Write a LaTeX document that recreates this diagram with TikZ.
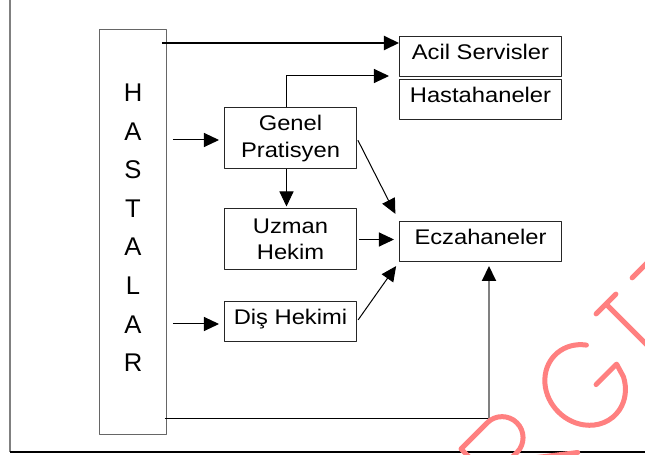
\documentclass[tikz,border=0pt]{standalone}
\usepackage{fontspec}
\setmainfont{Liberation Sans}[FakeStretch=1.12]
\newfontfamily\harffont{Liberation Sans}
\usetikzlibrary{arrows.meta}
\definecolor{damga}{RGB}{255,128,128}
\begin{document}
\begin{tikzpicture}[x=0.5pt,y=-0.5pt,line join=round,>={Triangle[length=7.5pt,width=7pt]}]

		\tikzset{kutu/.style={draw=black!85,line width=0.5pt,inner sep=0pt,align=center,font=\fontsize{10.6}{13.3}\selectfont},
			genis/.style={kutu,minimum width=81pt},
			dar/.style={kutu,minimum width=66pt},
			tek/.style={text height=7.8pt,text depth=5pt,minimum height=20pt},
			iki/.style={minimum height=30.5pt},
			ok/.style={->,line width=0.5pt}}

		\useasboundingbox (0,0) rectangle (645,455);
		\draw[black!50,line width=1pt] (10,0)--(10,452);
		\draw[line width=0.6pt] (10,452)--(645,452);

		\node[draw=black!60,line width=0.5pt,minimum width=33.5pt,minimum height=202.5pt] (hastalar) at (133,232.5) {};
		\node[font=\harffont\fontsize{12.8}{19.3}\selectfont,align=center] (hastalarYazi) at (133,227.75) {H\\A\\S\\T\\A\\L\\A\\R};
		\node[genis,tek] (acil) at (480.5,57) {Acil Servisler};
		\node[genis,tek] (hastane) at (480.5,100) {Hastahaneler};
		\node[genis,tek] (eczane) at (480.5,241.5) {Eczahaneler};
		\node[dar,iki] (genel) at (290.5,138.5) {Genel\\Pratisyen};
		\node[dar,iki] (uzman) at (290.5,239.5) {Uzman\\Hekim};
		\node[dar,tek] (dis) at (290.5,321.5) {Diş Hekimi};

		\coordinate (acilBas) at (162,43);
		\coordinate (hastaneUc) at (389,76);
		\coordinate (genelBas) at (173,140);
		\coordinate (disBas) at (173,324);
		\coordinate (altBas) at (165,419);
		\coordinate (altKose) at (489,419);

		\draw[ok,line width=1pt] (acilBas)--(acilBas -| acil.west);
		\draw[ok] ([xshift=-1.75pt]genel.north) |- (hastaneUc);
		\draw[ok,shorten >=2.5pt] (genelBas)--(genelBas -| genel.west);
		\draw[ok,shorten >=2.5pt] (disBas)--(disBas -| dis.west);
		\draw[ok,shorten >=1pt] ([xshift=-2pt]genel.south)--([xshift=-2pt]uzman.north);
		\draw[ok,shorten <=1pt,shorten >=4pt] (genel.east)--(eczane.north west);
		\draw[ok,shorten <=1pt,shorten >=2.5pt] (uzman.east)--(uzman.east -| eczane.west);
		\draw[ok,shorten <=1pt,shorten >=2.5pt] (dis.east)--(eczane.south west);
		\draw[line width=0.5pt] (altBas)--(altKose);
		\draw[ok,draw=black!50,line width=1pt,-{Triangle[length=7.5pt,width=7pt,color=black]},shorten >=2pt] (altKose)--(altKose |- eczane.south);

		\begin{scope}
		\clip (0,0) rectangle (645,455);
		\begin{scope}[shift={(606,304)},rotate=45,yscale=-1,damga,line width=2.5pt,line cap=round]
		\draw (-14,0)--(14,0) (0,0)--(0,-85);
		\draw (-42.9,-15.2) arc[start angle=40,end angle=330,x radius=38,y radius=42.5]--(-35,-50)--(-64,-50);
		\draw (-205,-85)--(-205,0)--(-168,0) arc[start angle=90,end angle=-90,radius=21]--(-205,-42);
		\draw (-180,-42)--(-125,-85);
		\draw (37,0)--(80,0);
		\end{scope}
		\end{scope}
		\end{tikzpicture}
\end{document}
